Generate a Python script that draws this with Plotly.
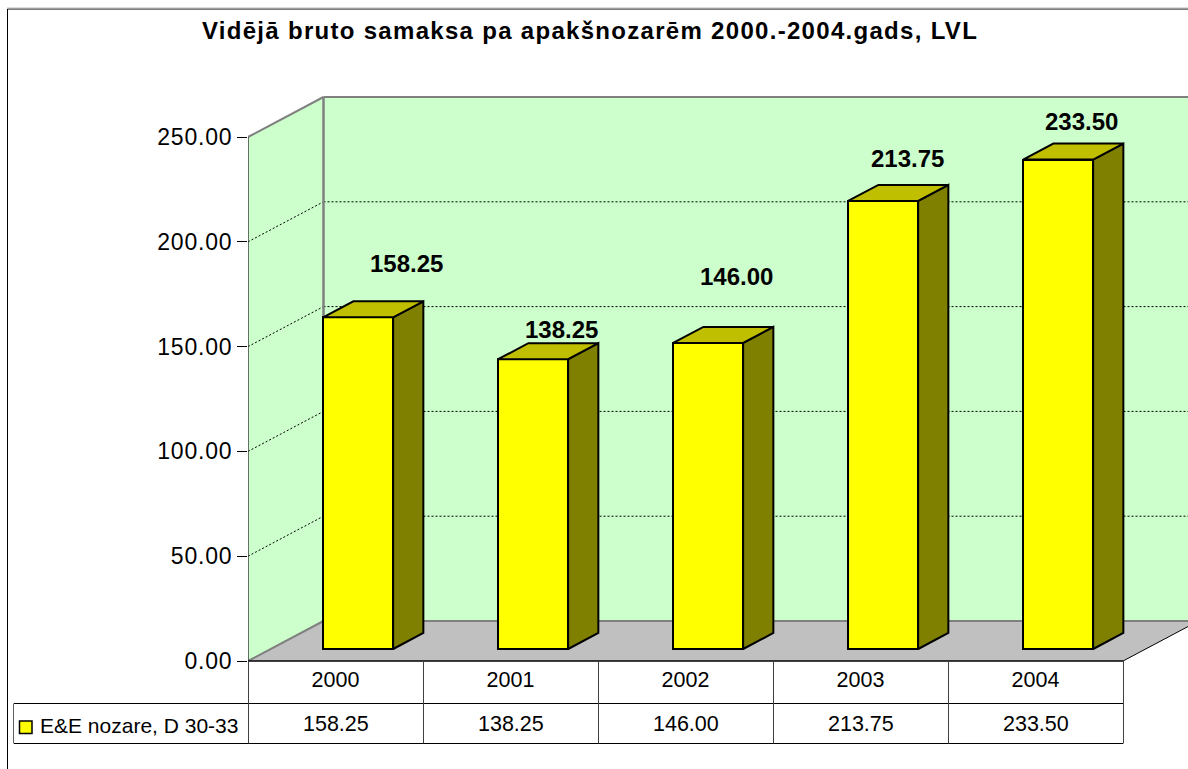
import plotly.graph_objects as go

# ---- data ----
YEARS = ["2000", "2001", "2002", "2003", "2004"]
VALUES = [158.25, 138.25, 146.00, 213.75, 233.50]
Y_TICKS = [0, 50, 100, 150, 200, 250]
SERIES_NAME = "E&E nozare, D 30-33"
TITLE = "Vidējā bruto samaksa pa apakšnozarēm 2000.-2004.gads, LVL"

# ---- layout geometry (pixels of the page) ----
W, H = 1188, 769
LEFT, ZERO_Y = 248, 661
CAT_PX = 175.0
UNIT_PX = 524 / 250
DEPTH_X = 75.5 / CAT_PX     # depth offset of the back wall, in category units
DEPTH_Y = 40 / UNIT_PX      # depth offset of the back wall, in value units
BAR_FRONT, BAR_BACK, BAR_W = 0.3, 0.7, 0.4
N = len(YEARS)
X_MAX = (W - LEFT) / CAT_PX
Y_MAX = ZERO_Y / UNIT_PX
LABEL_SHIFT = [(48, -54), (28, -30), (28, -66), (24, -42), (23, -38)]  # label offset from bar top, px


def proj(x, v, d):
    return x + d * DEPTH_X, v + d * DEPTH_Y


def px(x):
    return (x - LEFT) / (W - LEFT)


def py(y):
    return (ZERO_Y - y) / ZERO_Y


def spaced(t, s):
    return f'<span style="letter-spacing:{s}px">{t}</span>'


def poly_path(points):
    return "M" + " L".join(f"{a},{b}" for a, b in points) + " Z"


shapes = []
WALL = "#CCFFCC"
GRAY = "#808080"
# back wall and side wall
shapes.append(dict(type="path", layer="below", xref="x", yref="y", fillcolor=WALL, line=dict(width=0),
                   path=poly_path([proj(0, 0, 1), proj(0, 250, 1), proj(X_MAX + 1, 250, 1), proj(X_MAX + 1, 0, 1)])))
shapes.append(dict(type="path", layer="below", xref="x", yref="y", fillcolor=WALL, line=dict(width=0),
                   path=poly_path([proj(0, 0, 0), proj(0, 250, 0), proj(0, 250, 1), proj(0, 0, 1)])))
# floor
shapes.append(dict(type="path", layer="below", xref="x", yref="y", fillcolor="#C0C0C0", line=dict(width=0),
                   path=poly_path([proj(0, 0, 0), proj(N, 0, 0), proj(N, 0, 1), proj(0, 0, 1)])))


def seg(a, b, color, width, dash="solid", layer="below"):
    shapes.append(dict(type="line", layer=layer, xref="x", yref="y", x0=a[0], y0=a[1], x1=b[0], y1=b[1],
                       line=dict(color=color, width=width, dash=dash)))


for t in Y_TICKS[1:-1]:
    seg(proj(0, t, 0), proj(0, t, 1), "#000000", 1, "2px,2px")
    seg(proj(0, t, 1), proj(X_MAX + 1, t, 1), "#000000", 1, "2px,2px")
seg(proj(0, 250, 0), proj(0, 250, 1), GRAY, 2)
seg(proj(0, 250, 1), proj(X_MAX + 1, 250, 1), GRAY, 2)
seg(proj(0, 0, 1), proj(0, 250, 1), GRAY, 2.5)
seg(proj(0, 0, 0), proj(0, 0, 1), GRAY, 2)
seg(proj(0, 0, 1), proj(X_MAX + 1, 0, 1), GRAY, 2)
seg(proj(0, 0, 0), proj(0, 250, 0), "#404040", 1.5)
seg(proj(N, 0, 0), proj(N, 0, 1), "#000000", 1)

# table, frame
def pline(x0, y0, x1, y1, color="#000000", width=1):
    shapes.append(dict(type="line", layer="above", xref="paper", yref="paper",
                       x0=px(x0), y0=py(y0), x1=px(x1), y1=py(y1), line=dict(color=color, width=width)))


pline(LEFT, ZERO_Y, LEFT + N * CAT_PX, ZERO_Y, width=1.5)
pline(14, 703.5, LEFT + N * CAT_PX, 703.5)
pline(14, 743.5, LEFT + N * CAT_PX, 743.5)
pline(13.5, 703.5, 13.5, 743.5, "#606060")
for i in range(N + 1):
    pline(LEFT + i * CAT_PX + 0.5, ZERO_Y, LEFT + i * CAT_PX + 0.5, 743.5, "#404040")
pline(7.5, 9, W, 9)
pline(7.5, 9, 7.5, H)
pline(7, 8, W, 8, "#BBBBBB")
# legend key
shapes.append(dict(type="rect", layer="above", xref="paper", yref="paper", x0=px(19.5), x1=px(32), y0=py(721), y1=py(733.5),
                   fillcolor="#FFFF00", line=dict(color="#000000", width=1.5)))

fig = go.Figure()
bar_x = [i + 0.5 + BAR_FRONT * DEPTH_X for i in range(N)]
fig.add_bar(x=bar_x, y=VALUES, base=[BAR_FRONT * DEPTH_Y] * N, width=BAR_W, name=SERIES_NAME,
            marker=dict(color="#FFFF00", line=dict(color="#000000", width=2)), showlegend=False, hoverinfo="skip")

side_x, side_y, top_x, top_y = [], [], [], []
for x, v in zip(bar_x, VALUES):
    r = x + BAR_W / 2
    l = x - BAR_W / 2
    dd = BAR_BACK - BAR_FRONT
    b0 = BAR_FRONT * DEPTH_Y
    v0, v1 = b0, b0 + v
    side = [(r, v0), (r, v1), (r + dd * DEPTH_X, v1 + dd * DEPTH_Y), (r + dd * DEPTH_X, v0 + dd * DEPTH_Y), (r, v0)]
    top = [(l, v1), (r, v1), (r + dd * DEPTH_X, v1 + dd * DEPTH_Y), (l + dd * DEPTH_X, v1 + dd * DEPTH_Y), (l, v1)]
    side_x += [p[0] for p in side] + [None]
    side_y += [p[1] for p in side] + [None]
    top_x += [p[0] for p in top] + [None]
    top_y += [p[1] for p in top] + [None]
fig.add_scatter(x=side_x, y=side_y, mode="lines", fill="toself", fillcolor="#808000",
                line=dict(color="#000000", width=2), showlegend=False, hoverinfo="skip")
fig.add_scatter(x=top_x, y=top_y, mode="lines", fill="toself", fillcolor="#BFBF00",
                line=dict(color="#000000", width=2), showlegend=False, hoverinfo="skip")

annotations = []
for x, v, (dx, dy) in zip(bar_x, VALUES, LABEL_SHIFT):
    annotations.append(dict(x=x, y=v + BAR_FRONT * DEPTH_Y, xref="x", yref="y", xshift=dx, yshift=-dy,
                            text=f"{v:.2f}", showarrow=False, xanchor="center", yanchor="middle",
                            font=dict(size=24, color="#000000", family="Liberation Sans", weight="bold")))
for i, v in enumerate(VALUES):
    annotations.append(dict(x=i + 0.5, y=py(724), xref="x", yref="paper", text=f"{v:.2f}", showarrow=False,
                            xanchor="center", yanchor="middle",
                            font=dict(size=21.5, color="#000000", family="Liberation Sans")))
annotations.append(dict(x=px(40), y=py(725), xref="paper", yref="paper", text=SERIES_NAME, showarrow=False,
                        xanchor="left", yanchor="middle", xshift=-2,
                        font=dict(size=21, color="#000000", family="Liberation Sans")))

fig.update_layout(
    width=W, height=H, margin=dict(l=LEFT, r=0, t=0, b=H - ZERO_Y, pad=0),
    paper_bgcolor="#FFFFFF", plot_bgcolor="#FFFFFF", showlegend=False,
    font=dict(family="Liberation Sans", color="#000000"),
    title=dict(text=spaced(TITLE, 1.3), x=590 / W, xanchor="center", y=1 - 31 / H, yanchor="middle", yref="container",
               font=dict(size=24, family="Liberation Sans", weight="bold", color="#000000")),
    xaxis=dict(range=[0, X_MAX], showgrid=False, zeroline=False, showline=False, ticks="",
               tickmode="array", tickvals=[i + 0.5 for i in range(N)], ticktext=YEARS, ticklabelstandoff=3,
               tickfont=dict(size=21.5, color="#000000", family="Liberation Sans")),
    yaxis=dict(range=[0, Y_MAX], showgrid=False, zeroline=False, showline=False, ticks="outside", ticklen=10,
               tickwidth=1, tickcolor="#000000", tickmode="array", tickvals=Y_TICKS,
               ticktext=[spaced(f"{t:.2f}", 0.8) for t in Y_TICKS],
               tickfont=dict(size=23, color="#000000", family="Liberation Sans")),
    shapes=shapes, annotations=annotations, bargap=0,
)
fig.write_html("out.html", config=dict(displayModeBar=False), post_script="document.body.style.margin='0';")
